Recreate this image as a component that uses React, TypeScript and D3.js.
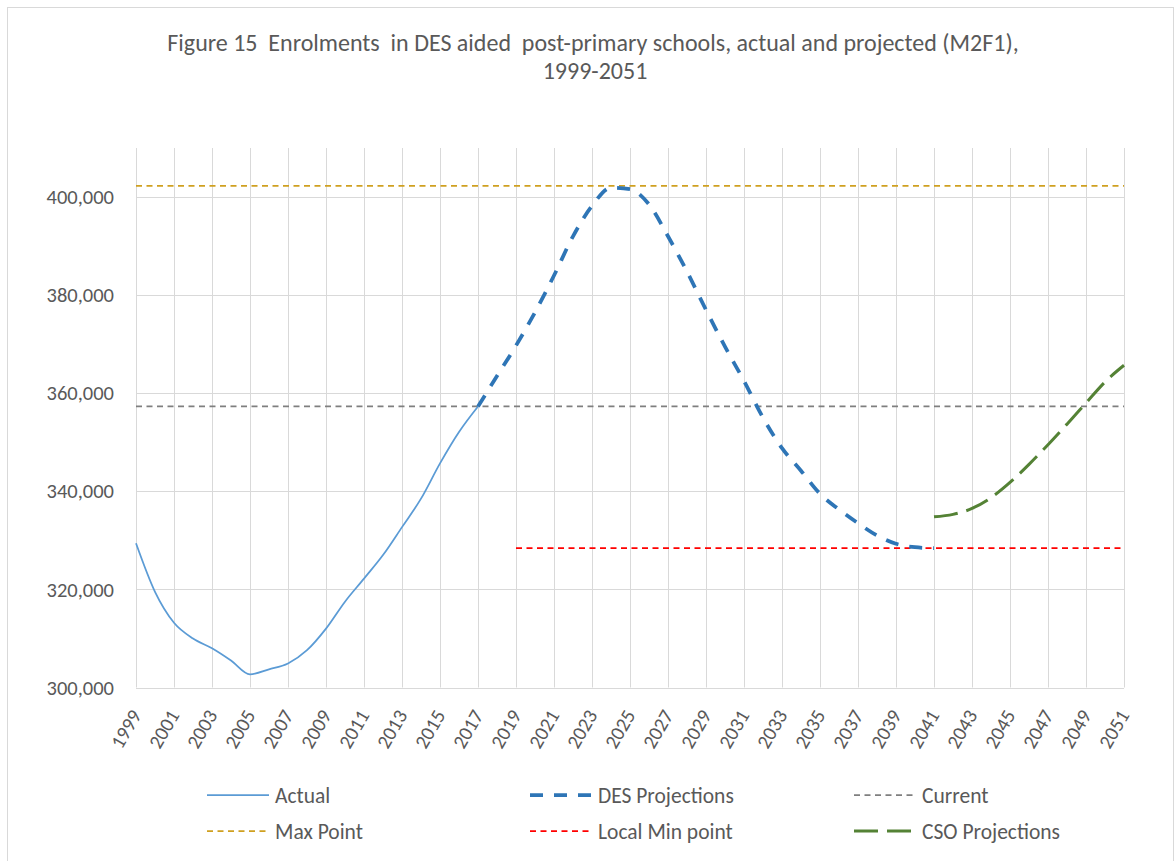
import * as d3 from 'd3';
import { useEffect, useRef } from 'react';

// enrolment figures
const actualYears = [1999, 2000, 2001, 2002, 2003, 2004, 2005, 2006, 2007, 2008, 2009, 2010, 2011, 2012, 2013, 2014, 2015, 2016, 2017];
const actualValues = [329400, 319500, 313200, 310000, 308000, 305500, 302700, 303700, 304900, 307600, 312000, 317500, 322200, 327000, 332700, 338500, 345700, 352100, 357300];

const desYears = [2017, 2018, 2019, 2020, 2021, 2022, 2023, 2024, 2025, 2026, 2027, 2028, 2029, 2030, 2031, 2032, 2033, 2034, 2035, 2036, 2037, 2038, 2039, 2040, 2041];
const desValues = [357300, 363500, 369700, 376500, 384000, 392000, 398200, 401900, 401600, 398500, 392000, 384800, 377000, 369500, 362500, 355000, 348800, 344200, 339500, 336300, 333500, 331000, 329300, 328600, 328400];

const csoYears = [2041, 2042, 2043, 2044, 2045, 2046, 2047, 2048, 2049, 2050, 2051];
const csoValues = [334800, 335300, 336500, 338700, 341800, 345500, 349500, 353700, 358000, 362300, 365700];

// constant reference lines: [first year, last year, value]
const currentLine = [1999, 2051, 357300];
const maxLine = [1999, 2051, 402300];
const localMinLine = [2019, 2051, 328400];

const xTickLabels = ['1999', '2001', '2003', '2005', '2007', '2009', '2011', '2013', '2015', '2017', '2019', '2021', '2023', '2025', '2027', '2029', '2031', '2033', '2035', '2037', '2039', '2041', '2043', '2045', '2047', '2049', '2051'];
const yTicks = [300000, 320000, 340000, 360000, 380000, 400000];

const FONT = 'Carlito, Calibri, "Liberation Sans", sans-serif';
const TEXT = '#595959';
const GRID = '#d9d9d9';

function App() {
  const ref = useRef(null);

  useEffect(() => {
    const W = 1175;
    const H = 861;
    const margin = { left: 136, top: 148, right: 51, bottom: 173.5 };
    const w = W - margin.left - margin.right;
    const h = H - margin.top - margin.bottom;

    const root = d3.select(ref.current);
    root.selectAll('*').remove();
    const svg = root.append('svg')
      .attr('width', W)
      .attr('height', H)
      .style('position', 'absolute')
      .style('left', 0)
      .style('top', 0)
      .style('font-family', FONT);

    svg.append('rect').attr('width', W).attr('height', H).attr('fill', '#fff');
    svg.append('rect')
      .attr('x', 7.5).attr('y', 7.5)
      .attr('width', 1166).attr('height', 900)
      .attr('fill', 'none').attr('stroke', GRID);

    // title (double spaces kept as in the original)
    const title = svg.append('text')
      .attr('text-anchor', 'middle')
      .attr('fill', TEXT)
      .style('font-size', '24px')
      .style('white-space', 'pre');
    title.append('tspan').attr('x', 593).attr('y', 51)
      .text('Figure 15  Enrolments  in DES aided  post-primary schools, actual and projected (M2F1),');
    title.append('tspan').attr('x', 595).attr('y', 79).text('1999-2051');

    const g = svg.append('g').attr('transform', `translate(${margin.left},${margin.top})`);

    const x = d3.scaleLinear().domain([1999, 2051]).range([0, w]);
    const y = d3.scaleLinear().domain([300000, 410000]).range([h, 0]);

    // gridlines
    g.append('g')
      .selectAll('line')
      .data(yTicks)
      .enter()
      .append('line')
      .attr('x1', 0).attr('x2', w)
      .attr('y1', (d) => Math.round(y(d)) + 0.5)
      .attr('y2', (d) => Math.round(y(d)) + 0.5)
      .attr('stroke', GRID);
    g.append('g')
      .selectAll('line')
      .data(xTickLabels)
      .enter()
      .append('line')
      .attr('x1', (d) => Math.round(x(+d)) + 0.5)
      .attr('x2', (d) => Math.round(x(+d)) + 0.5)
      .attr('y1', 0).attr('y2', h)
      .attr('stroke', GRID);

    // y labels
    g.append('g')
      .selectAll('text')
      .data(yTicks)
      .enter()
      .append('text')
      .attr('x', -22)
      .attr('y', (d) => y(d))
      .attr('dy', '0.35em')
      .attr('text-anchor', 'end')
      .attr('fill', TEXT)
      .style('font-size', '20.5px')
      .text((d) => d3.format(',')(d));

    // x labels, rotated
    g.append('g')
      .selectAll('text')
      .data(xTickLabels)
      .enter()
      .append('text')
      .attr('transform', (d) => `translate(${x(+d)},${h + 24}) rotate(-60)`)
      .attr('dy', '0.35em')
      .attr('text-anchor', 'end')
      .attr('fill', TEXT)
      .style('font-size', '20px')
      .text((d) => d);

    const line = d3.line().x((d) => x(d[0])).y((d) => y(d[1]));
    const pairs = (yrs, vals) => yrs.map((yr, i) => [yr, vals[i]]);
    const flat = (l) => [[l[0], l[2]], [l[1], l[2]]];

    const series = [
      { pts: flat(maxLine), color: '#CFA020', width: 1.75, dash: '6 4.5' },
      { pts: flat(currentLine), color: '#7f7f7f', width: 1.75, dash: '6 4.5' },
      { pts: flat(localMinLine), color: '#ff0000', width: 1.75, dash: '6 4.5' },
      { pts: pairs(actualYears, actualValues), color: '#5b9bd5', width: 1.75, dash: null },
      { pts: pairs(desYears, desValues), color: '#2e75b6', width: 3.75, dash: '13 11' },
      { pts: pairs(csoYears, csoValues), color: '#548235', width: 3, dash: '24 9' },
    ];

    g.append('g')
      .selectAll('path')
      .data(series)
      .enter()
      .append('path')
      .attr('d', (d) => line.curve(d3.curveMonotoneX)(d.pts))
      .attr('fill', 'none')
      .attr('stroke', (d) => d.color)
      .attr('stroke-width', (d) => d.width)
      .attr('stroke-dasharray', (d) => d.dash);

    // legend
    const legendItems = [
      { label: 'Actual', color: '#5b9bd5', width: 1.75, dash: null, col: 0, row: 0 },
      { label: 'DES Projections', color: '#2e75b6', width: 3.75, dash: '13 11', col: 1, row: 0 },
      { label: 'Current', color: '#7f7f7f', width: 1.75, dash: '6 4.5', col: 2, row: 0 },
      { label: 'Max Point', color: '#CFA020', width: 1.75, dash: '6 4.5', col: 0, row: 1 },
      { label: 'Local Min point', color: '#ff0000', width: 1.75, dash: '6 4.5', col: 1, row: 1 },
      { label: 'CSO Projections', color: '#548235', width: 3, dash: '24 9', col: 2, row: 1 },
    ];
    const colX = [207, 530, 854];
    const rowY = [795, 831];
    const legend = svg.append('g')
      .selectAll('g')
      .data(legendItems)
      .enter()
      .append('g')
      .attr('transform', (d) => `translate(${colX[d.col]},${rowY[d.row]})`);
    legend.append('line')
      .attr('x1', 0).attr('x2', 62)
      .attr('stroke', (d) => d.color)
      .attr('stroke-width', (d) => d.width)
      .attr('stroke-dasharray', (d) => d.dash);
    legend.append('text')
      .attr('x', 68)
      .attr('dy', '0.35em')
      .attr('fill', TEXT)
      .style('font-size', '21.5px')
      .text((d) => d.label);
  }, []);

  return <div ref={ref} />;
}

export default App;
